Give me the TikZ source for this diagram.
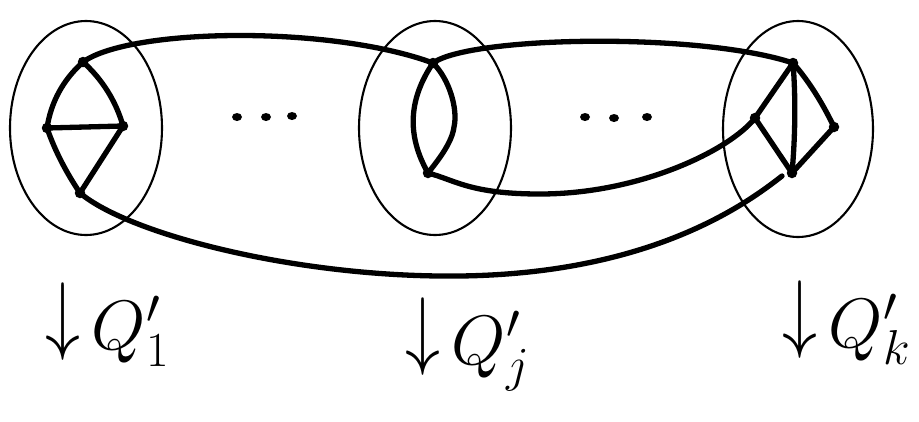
\RequirePackage{fix-cm}
\documentclass[tikz,border=0pt]{standalone}
\usepackage{graphicx}
\usetikzlibrary{shapes.geometric}
\tikzset{
 ring/.style={ellipse, draw, line width=2.1pt, minimum width=152pt, minimum height=214pt, inner sep=0pt},
 gline/.style={line width=5.3pt, line cap=round, line join=round},
 vtx/.style={circle, fill, inner sep=0pt, minimum size=10.5pt},
 dotmark/.style={ellipse, fill, inner sep=0pt, minimum width=10pt, minimum height=8pt},
 lab/.style={anchor=base west, inner sep=0pt, font={\fontsize{70}{84}\selectfont}}
}
\begin{document}
\begin{tikzpicture}[x=1pt,y=-1pt]
\useasboundingbox (0,0) rectangle (919,421);
% rings
\node[ring] (E1) at (86,128) {};
\node[ring] (E2) at (435,128) {};
\node[ring, minimum width=150pt, minimum height=216pt] (E3) at (798,129) {};
% vertex positions
\coordinate (a1) at (83,62);
\coordinate (a2) at (47,128);
\coordinate (a3) at (123,126);
\coordinate (a4) at (80,193);
\coordinate (b1) at (433,63);
\coordinate (b2) at (428,173);
\coordinate (b3) at (454,127);
\coordinate (c1) at (793,63);
\coordinate (c2) at (755,118);
\coordinate (c3) at (834,127);
\coordinate (c4) at (792,173);
\coordinate (mid) at (460,276);
\coordinate (qend) at (782,176);
% left graph
\draw[gline] (a1) .. controls (63,80) and (51,102) .. (a2);
\draw[gline] (a1) .. controls (102,79) and (116,101) .. (a3);
\draw[gline] (a2) -- (a3);
\draw[gline] (a2) .. controls (55,151) and (66,172) .. (a4);
\draw[gline] (a3) -- (a4);
% middle graph
\draw[gline] (b1) .. controls (408,100) and (407,136) .. (b2);
\draw[gline] (b1) .. controls (450,80) and (458,110) .. (b3) .. controls (452,142) and (440,158) .. (b2);
% right graph
\draw[gline] (c1) .. controls (796,100) and (795,140) .. (c4);
\draw[gline] (c1) -- (c2);
\draw[gline] (c1) .. controls (808,80) and (822,102) .. (c3);
\draw[gline] (c2) -- (c4);
\draw[gline] (c3) -- (c4);
% long connectors
\draw[gline] (a1) .. controls (130,28) and (330,25) .. (b1);
\draw[gline] (b1) .. controls (470,36) and (700,32) .. (c1);
\draw[gline] (b2) .. controls (455,180) and (470,194) .. (540,194) .. controls (640,194) and (730,150) .. (c2);
\draw[gline] (a4) .. controls (130,235) and (300,278) .. (mid) .. controls (650,273.6) and (745,205) .. (qend);
% vertices
\foreach \v in {a1,a2,a3,a4,b1,b2,c1,c2,c3,c4} \node[vtx] (\v v) at (\v) {};
% dots
\node[dotmark] (d1) at (237,117) {};
\node[dotmark] (d2) at (266,117) {};
\node[dotmark] (d3) at (292,116) {};
\node[dotmark] (d4) at (585,117) {};
\node[dotmark] (d5) at (614,118) {};
\node[dotmark] (d6) at (647,117) {};
% labels
\node[lab] (L1) at (45,349) {\raisebox{0.08em}{\scalebox{1}[1.25]{$\downarrow$}}\,$Q'_1$};
\node[lab] (L2) at (405,364) {\raisebox{0.08em}{\scalebox{1}[1.25]{$\downarrow$}}\,$Q'_j$};
\node[lab] (L3) at (782,347) {\raisebox{0.08em}{\scalebox{1}[1.25]{$\downarrow$}}\,$Q'_k$};
\end{tikzpicture}
\end{document}
